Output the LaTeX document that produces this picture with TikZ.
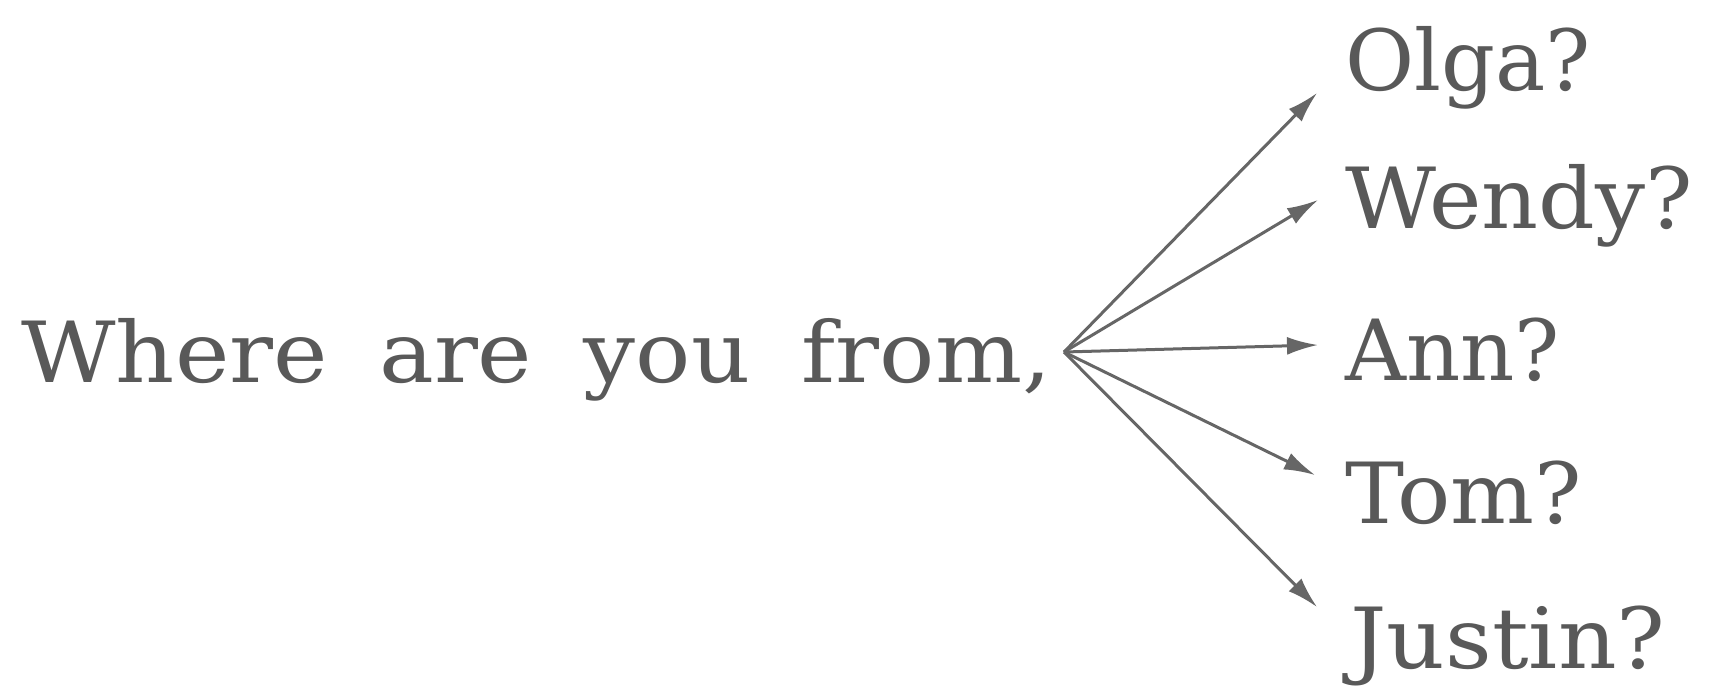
\documentclass[tikz,border=0pt]{standalone}
\usepackage{fontspec}
\setmainfont{DejaVu Serif}
\usepackage{xcolor}
\usetikzlibrary{arrows.meta}
\tikzset{>={Latex[length=0.62cm,width=0.36cm]}}
\colorlet{textcol}{black!65}
\colorlet{arrowcol}{black!60}
\tikzstyle{word}=[textcol,anchor=base west,inner sep=0,font=\fontsize{48}{56}\selectfont]
\tikzstyle{pointer}=[arrowcol,line width=0.06cm,->]

\begin{document}
\begin{tikzpicture}[x=0.02cm,y=-0.02cm]
  \useasboundingbox (0,0) rectangle (1711,687);
  \def\X{1345}
  \node[word,xscale=1.09] (question) at (21,382) {\spaceskip=0.56em Where are you from,};
  \coordinate (hub) at (1064,352);
  % names on the right
  \node[word] (olga) at (\X,90) {Olga?};
  \node[word,xscale=1.05] (wendy) at (\X,228) {Wendy?};
  \node[word] (ann) at (\X,380) {Ann?};
  \node[word,xscale=1.05] (tom) at (\X,523) {Tom?};
  \node[word,xscale=1.08] (justin) at (1350,668) {Justin?};
  % arrow tips
  \coordinate (to-olga) at (1317,93);
  \coordinate (to-wendy) at (1318,200);
  \coordinate (to-ann) at (1318,345);
  \coordinate (to-tom) at (1315,475);
  \coordinate (to-justin) at (1317,607);
  \foreach \n in {olga,wendy,ann,tom,justin}
    \draw[pointer] (hub) -- (to-\n);
\end{tikzpicture}
\end{document}
